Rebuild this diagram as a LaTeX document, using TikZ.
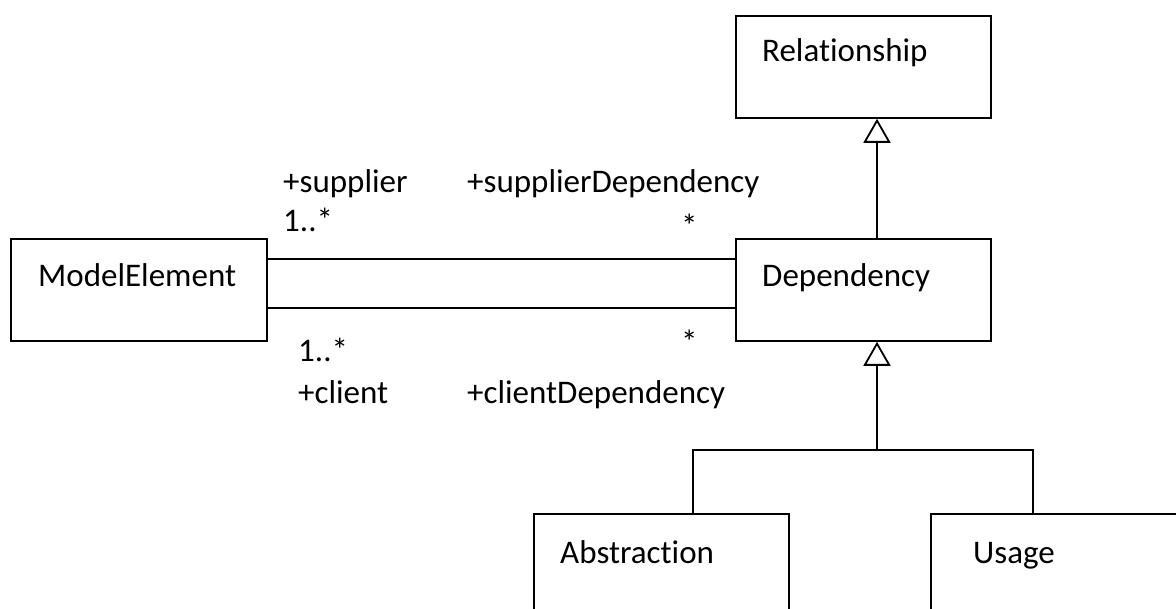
\documentclass[tikz,border=0pt]{standalone}
\usepackage{fontspec}
\setmainfont{Carlito}[Ligatures=NoCommon]
\usetikzlibrary{arrows.meta}
\begin{document}
\begin{tikzpicture}[x=1pt,y=-1pt,
  umlbox/.style={draw,line width=1.8pt,minimum width=255pt,minimum height=102pt,anchor=north west,inner sep=0pt},
  txt/.style={anchor=base west,inner sep=0pt,font=\fontsize{33}{39}\selectfont},
  assoc/.style={line width=1.8pt},
  gen/.style={line width=1.8pt,-{Triangle[open,length=24pt,width=27pt,line width=1.8pt]}}]
\useasboundingbox (0,0) rectangle (1176,609);
\clip (0,0) rectangle (1176,609);
% classes
\node[umlbox] (rel) at (735,15) {};
\node[umlbox] (dep) at (735,238) {};
\node[umlbox,minimum width=256pt] (me) at (10,238) {};
\node[umlbox,minimum height=130pt] (abs) at (533,513) {};
\node[umlbox,minimum height=130pt,minimum width=270pt] (use) at (930,513) {};
% class names
\node[txt] (relT) at (762,62) {Relationship};
\node[txt] (depT) at (762,287) {Dependency};
\node[txt] (meT) at (38,287) {ModelElement};
\node[txt] (absT) at (560,563) {Abstraction};
\node[txt] (useT) at (973,563) {Usage};
% association ends
\node[txt] (supR) at (283,193) {+supplier};
\node[txt] (supM) at (283,232) {1..*};
\node[txt] (sdR) at (467,193) {+supplierDependency};
\node[txt] (sdM) at (681,238) {*};
\node[txt] (cliM) at (298,362) {1..*};
\node[txt] (cliR) at (298,404) {+client};
\node[txt] (cdM) at (681,354) {*};
\node[txt] (cdR) at (467,404) {+clientDependency};
% associations
\draw[assoc] ([yshift=31pt]me.east) -- ([yshift=31pt]dep.west);
\draw[assoc] ([yshift=-18pt]me.east) -- ([yshift=-18pt]dep.west);
% generalizations
\coordinate (j) at (877,450);
\coordinate (aj) at (693,513);
\coordinate (uj) at (1033,513);
\draw[gen] (j |- dep.north) -- (j |- rel.south);
\draw[gen] (j) -- (j |- dep.south);
\draw[assoc] (aj) |- (j) -| (uj);
\end{tikzpicture}
\end{document}
